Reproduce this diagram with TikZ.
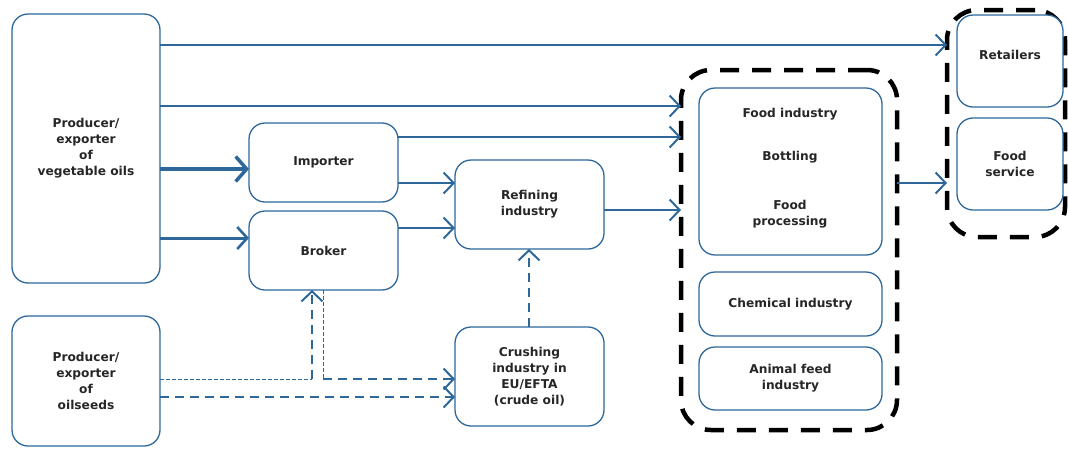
\documentclass[tikz,border=0pt]{standalone}
\usepackage{fontspec}
\setmainfont{DejaVu Sans}
\usetikzlibrary{arrows.meta,calc}
\definecolor{flow}{RGB}{46,104,155}
\begin{document}
\begin{tikzpicture}[x=1pt,y=-1pt,
  txt/.style={font=\bfseries\fontsize{12.2}{16}\selectfont, align=center, text=black!85},
  box/.style={draw=flow, line width=1.3pt, rounded corners=16pt, fill=white,
    anchor=north west, inner sep=0pt, outer sep=0pt, txt},
  grp/.style={draw=black, line width=4.5pt, rounded corners=30pt,
    dash pattern=on 19pt off 13pt, anchor=north west, inner sep=0pt, outer sep=0pt},
  arr/.style={draw=flow, line width=1.8pt,
    -{Straight Barb[length=10pt,width=21pt,line width=2pt]}},
  thickarr/.style={draw=flow, line width=4.5pt,
    -{Straight Barb[length=11pt,width=25pt,line width=3.5pt]}},
  midarr/.style={draw=flow, line width=3pt,
    -{Straight Barb[length=10pt,width=22pt,line width=2.6pt]}},
  darr/.style={draw=flow, line width=2.4pt, dash pattern=on 9pt off 6pt,
    -{Straight Barb[length=10pt,width=21pt,line width=2pt]}},
  thinline/.style={draw=flow, line width=1pt, dash pattern=on 3.5pt off 2.5pt},
]
\useasboundingbox (0,0) rectangle (1068,448);

% groups of final users
\node[grp, minimum width=216pt, minimum height=360pt] (grp1) at (681,70) {};
\node[grp, minimum width=118pt, minimum height=227pt] (grp2) at (947,10) {};

% suppliers
\node[box, minimum width=148pt, minimum height=269pt] (veg) at (12,14)
  {Producer/\\exporter\\of\\vegetable oils};
\node[box, minimum width=148pt, minimum height=130pt] (seeds) at (12,316)
  {Producer/\\exporter\\of\\oilseeds};

% traders and processors
\node[box, minimum width=149pt, minimum height=79pt] (imp) at (249,123) {Importer};
\node[box, minimum width=149pt, minimum height=79pt] (brok) at (249,211) {Broker};
\node[box, minimum width=149pt, minimum height=89pt] (ref) at (455,160)
  {Refining\\industry};
\node[box, minimum width=149pt, minimum height=99pt] (crush) at (455,327)
  {Crushing\\industry in\\EU/EFTA\\(crude oil)};

% industrial users
\node[box, minimum width=183pt, minimum height=167pt] (food) at (699,88) {};
\node[txt] (fi) at (790,114) {Food industry};
\node[txt] (bot) at (790,157) {Bottling};
\node[txt] (fp) at (790,214) {Food\\processing};
\node[box, minimum width=183pt, minimum height=64pt] (chem) at (699,272)
  {Chemical industry};
\node[box, minimum width=183pt, minimum height=63pt] (feed) at (699,347)
  {Animal feed\\industry};

% final distribution
\node[box, minimum width=106pt, minimum height=92pt] (ret) at (957,15) {};
\node[txt] (retl) at (1010,55) {Retailers};
\node[box, minimum width=106pt, minimum height=92pt] (serv) at (957,118)
  {Food\\service};

% vegetable oil flows
\draw[arr] (veg.east |- 0,45) -- (grp2.west |- 0,45);
\draw[arr] (veg.east |- 0,106) -- (grp1.west |- 0,106);
\draw[thickarr] (veg.east |- 0,169) -- (imp.west |- 0,169);
\draw[midarr] (veg.east |- 0,238) -- (brok.west |- 0,238);
\draw[arr] (imp.east |- 0,137) -- (grp1.west |- 0,137);
\draw[arr] (imp.east |- 0,183) -- (ref.west |- 0,183);
\draw[arr] (brok.east |- 0,228) -- (ref.west |- 0,228);
\draw[arr] (ref.east |- 0,210) -- (grp1.west |- 0,210);
\draw[arr] (grp1.east |- 0,183) -- (grp2.west |- 0,183);

% oilseed flows
\coordinate (j1) at (312,379);
\coordinate (j2) at (323,379);
\draw[thinline] (seeds.east |- j1) -- (j1);
\draw[darr] (j1) -- (brok.south -| j1);
\draw[thinline] (brok.south -| j2) -- (j2);
\draw[darr] (j2) -- (crush.west |- j2);
\draw[darr] (seeds.east |- 0,397) -- (crush.west |- 0,397);
\draw[darr] (crush.north -| 529,0) -- (ref.south -| 529,0);
\end{tikzpicture}
\end{document}
